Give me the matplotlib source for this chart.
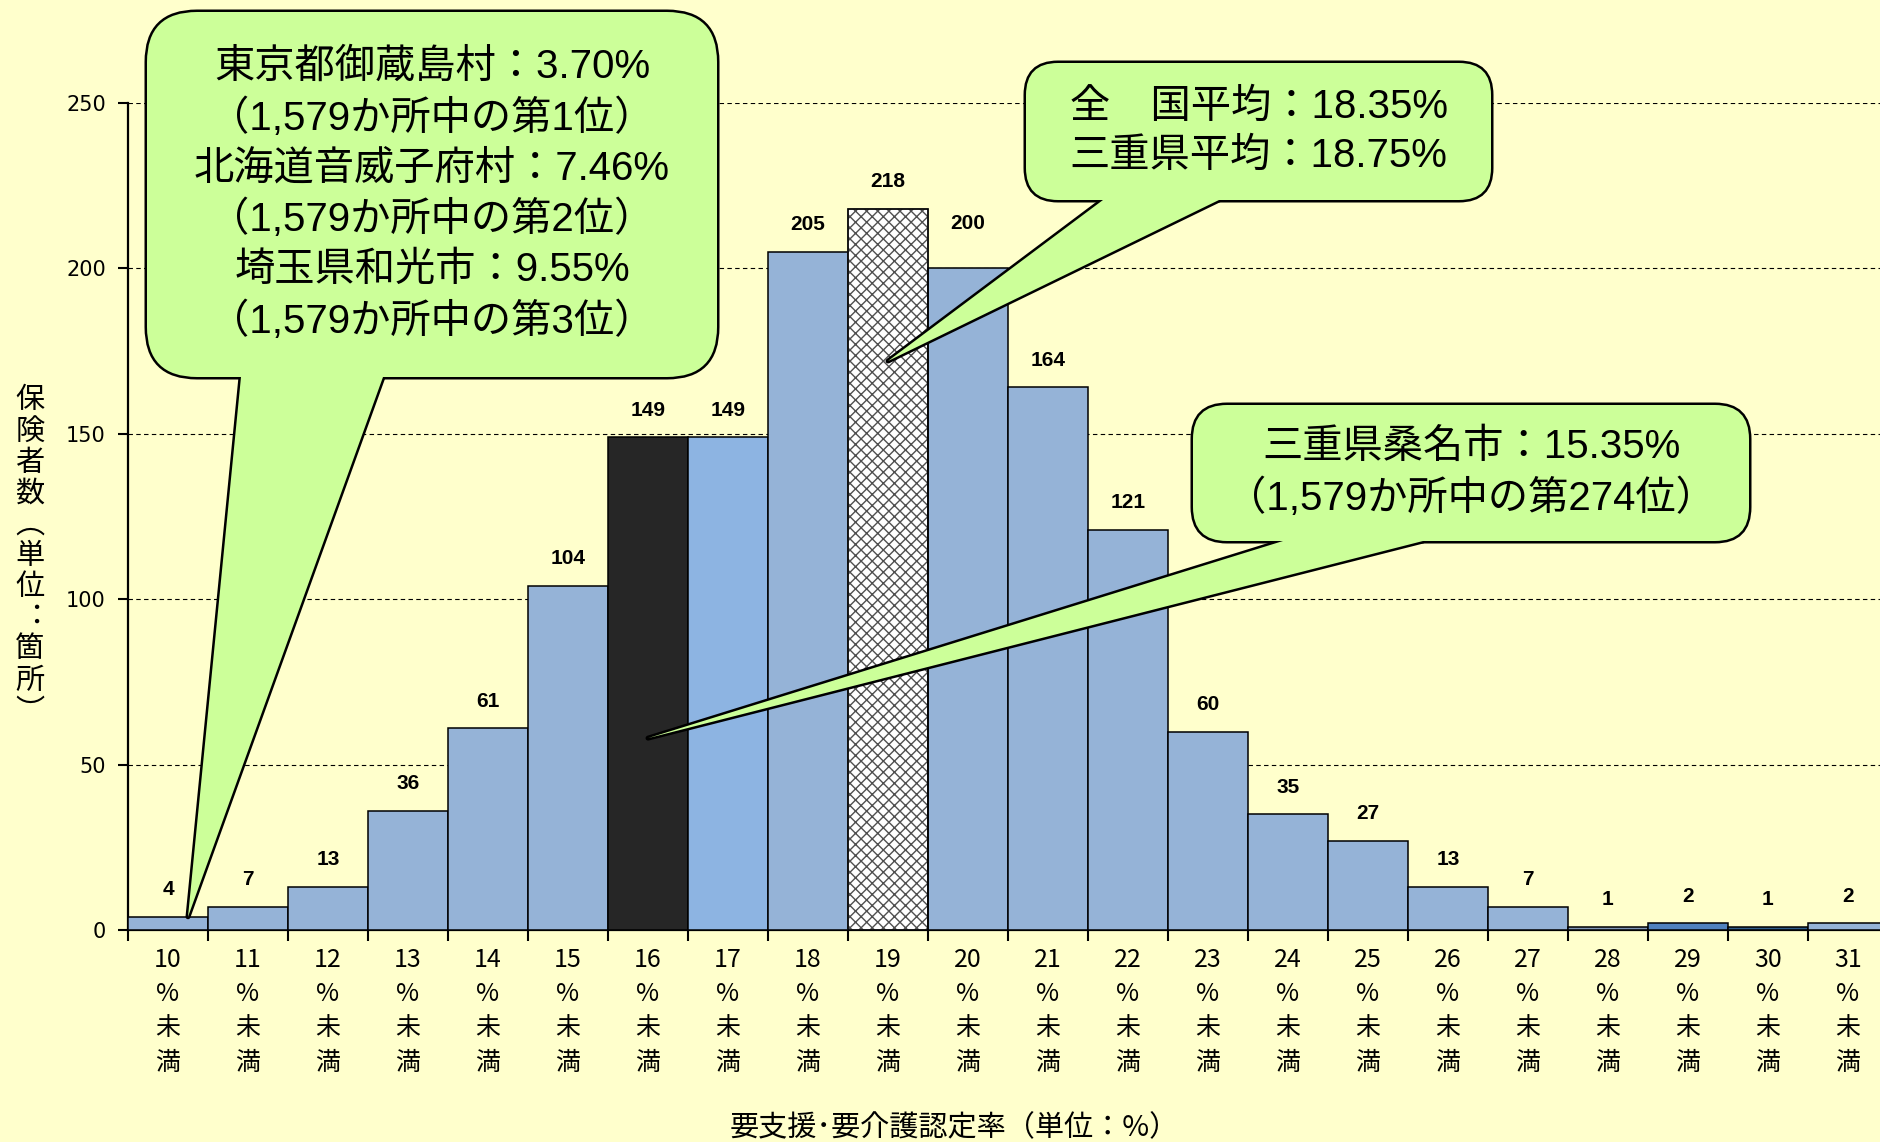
import numpy as np
import matplotlib.pyplot as plt
from matplotlib.patches import FancyBboxPatch, Polygon

plt.rcParams['font.family'] = ['Noto Sans CJK JP', 'DejaVu Sans']
plt.rcParams['hatch.linewidth'] = 1.0

#%% data
rates = list(range(10, 32))
counts = [4, 7, 13, 36, 61, 104, 149, 149, 205, 218, 200, 164, 121, 60, 35, 27, 13, 7, 1, 2, 1, 2]
tick_labels = [f"{r}\n%\n未\n満" for r in rates]

note1 = ["東京都御蔵島村：3.70%", "（1,579か所中の第1位）",
         "北海道音威子府村：7.46%", "（1,579か所中の第2位）",
         "埼玉県和光市：9.55%", "（1,579か所中の第3位）"]
note2 = ["全　国平均：18.35%", "三重県平均：18.75%"]
note3 = ["三重県桑名市：15.35%", "（1,579か所中の第274位）"]

#%% styles
bg = '#FFFFCC'
green = '#CCFF99'
colors = ['#95B3D7'] * len(counts)
colors[6] = '#262626'    # 16%
colors[7] = '#8DB4E2'    # 17%
colors[18] = '#7F95B5'
colors[19] = '#4F81BD'
colors[20] = '#2E5C8A'
lab_off = np.full(len(counts), 27.0)
lab_off[10] = 45.0

W, H = 1881, 1142
fig = plt.figure(figsize=(W / 100, H / 100), dpi=100, facecolor=bg)
ax = fig.add_axes([128 / W, (H - 930) / H, 1760 / W, 827 / H])
ax.set_facecolor(bg)

x = np.arange(len(counts))
bars = ax.bar(x, counts, width=1.0, color=colors, edgecolor='black', linewidth=1.1, zorder=3)
# hatched national-average bar
bars[9].set_facecolor('white')
bars[9].set_edgecolor('#505050')
bars[9].set_hatch('xxx')
ax.bar(x[9], counts[9], width=1.0, fill=False, edgecolor='black', linewidth=1.1, zorder=4)

for xi, v, off in zip(x, counts, lab_off):
    ax.annotate(str(v), (xi, v), xytext=(0, off), textcoords='offset pixels',
                ha='center', va='center', fontsize=15, fontweight='bold',
                family='Liberation Sans', zorder=4)

ax.set_xlim(-0.5, len(counts) - 0.5)
ax.set_ylim(0, 250)
ax.set_yticks([0, 50, 100, 150, 200, 250])
ax.tick_params(axis='y', direction='out', length=7, width=1.5, labelsize=15, pad=9,
               labelfontfamily='DejaVu Sans')
ax.set_xticks(x, tick_labels)
ax.tick_params(axis='x', which='major', length=0, labelsize=18, pad=12)
ax.set_xticks(np.arange(-0.5, len(counts), 1), minor=True)
ax.tick_params(axis='x', which='minor', direction='out', length=8, width=1.5)
for lbl in ax.get_xticklabels():
    lbl.set_linespacing(1.42)

ax.grid(axis='y', linestyle=(0, (4, 3)), color='black', linewidth=0.8)
ax.set_axisbelow(True)
for s in ['top', 'right']:
    ax.spines[s].set_visible(False)
for s in ['left', 'bottom']:
    ax.spines[s].set_linewidth(1.6)

fig.text(954 / W, 1 - 1128 / H, '要支援･要介護認定率（単位：%）', ha='center', va='center', fontsize=21)
fig.text(30 / W, 1 - 556 / H, '保\n険\n者\n数\n︵\n単\n位\n︓\n箇\n所\n︶',
         ha='center', va='center', fontsize=21, linespacing=1.05)


#%% callouts
def px2data(px, py):
    return ax.transData.inverted().transform((px, H - py))


aspect = (250 / 827) / (1 / 80)


def callout(box, base, tip, lines, rad, fs, ls):
    x0, y0, x1, y1 = box
    bx0, by1 = px2data(x0, y0)
    bx1, by0 = px2data(x1, y1)
    tx0, _ = px2data(base[0], y1)
    tx1, _ = px2data(base[1], y1)
    r = rad / 80
    for lw, fc, ec, z in [(3.6, green, 'black', 6), (0, green, 'none', 7)]:
        b = FancyBboxPatch((bx0, by0), bx1 - bx0, by1 - by0,
                           boxstyle=f"round,pad=0,rounding_size={r}", mutation_aspect=aspect,
                           fc=fc, ec=ec, lw=lw, clip_on=False, zorder=z)
        t = Polygon([(tx0, by0), tip, (tx1, by0)], closed=True, fc=fc, ec=ec, lw=lw,
                    joinstyle='round', clip_on=False, zorder=z)
        ax.add_patch(b)
        ax.add_patch(t)
    ax.text((bx0 + bx1) / 2, (by0 + by1) / 2, "\n".join(lines), ha='center', va='center',
            fontsize=fs, linespacing=ls, family=['Liberation Sans', 'Noto Sans CJK JP'],
            zorder=8, clip_on=False)


callout((147, 12, 717, 377), (241, 383), (x[0] + 0.25, counts[0]), note1, 50, 29, 1.39)
callout((1026, 63, 1491, 200), (1103, 1219), (x[9], 172), note2, 32, 29, 1.39)
callout((1193, 405, 1749, 541), (1283, 1423), (x[6], 58), note3, 34, 29, 1.39)

fig.savefig('out.png', dpi=100, facecolor=fig.get_facecolor())
